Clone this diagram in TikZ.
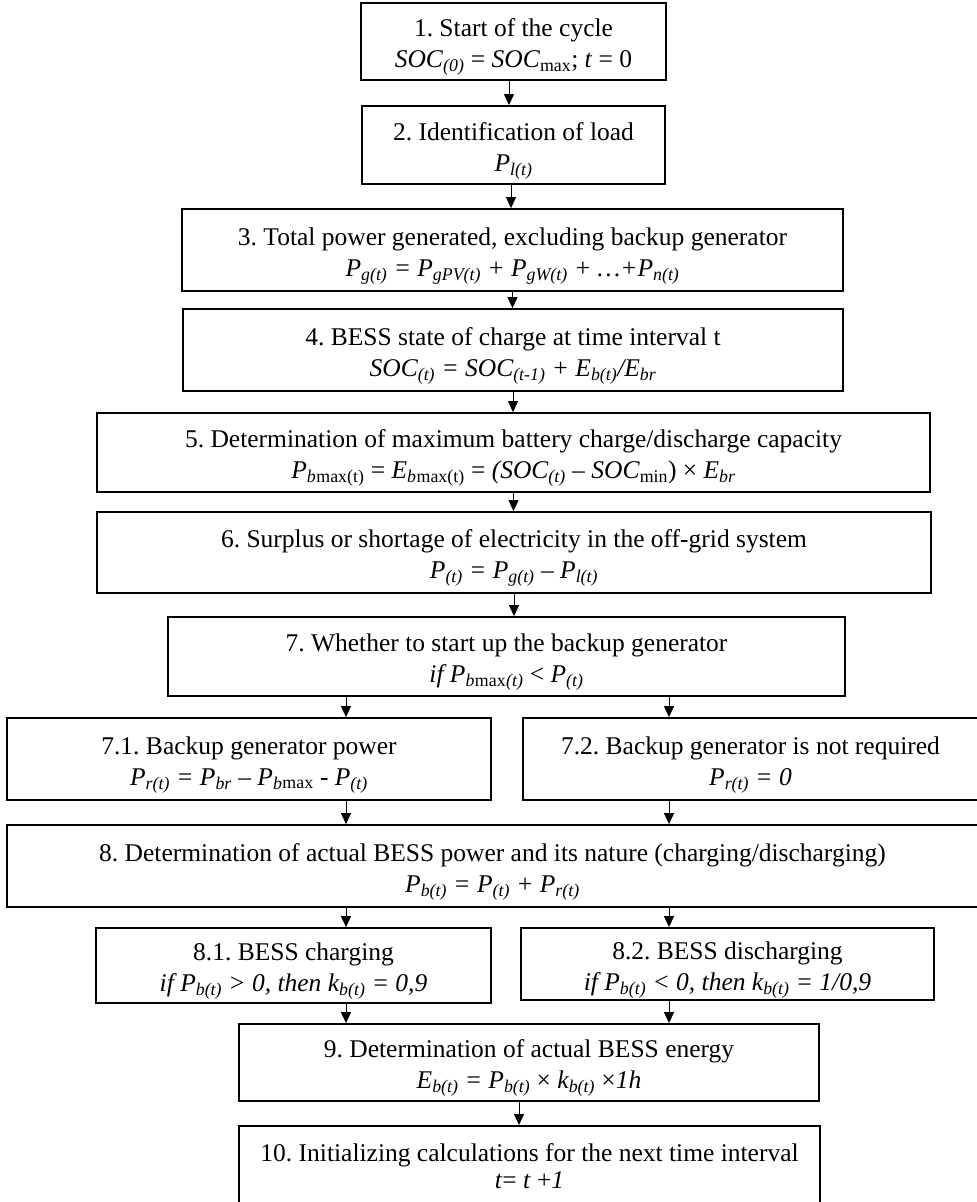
\documentclass[tikz,border=0pt]{standalone}
\usepackage{fontspec}
\setmainfont{Liberation Serif}
\usetikzlibrary{arrows.meta}
\newcommand\sbi[1]{\textsubscript{\itshape #1}}
\newcommand\sbu[1]{\textsubscript{\upshape #1}}
\newcommand\tstrut{\rule{0pt}{29pt}}
\frenchspacing
\begin{document}
\begin{tikzpicture}[x=1pt,y=-1pt,
  box/.style={draw=black, line width=1.8pt, align=center, inner sep=0pt,
    font=\fontsize{25.5pt}{31pt}\selectfont\frenchspacing},
  arr/.style={line width=1pt, -{Triangle[length=11pt,width=10pt]}}]
\useasboundingbox (0,0) rectangle (977,1202);
\node[box, minimum width=305pt, minimum height=77pt] (b1) at (513.5,41.5)
  {\tstrut 1. Start of the cycle\\ \textit{SOC}\sbi{(0)} = \textit{SOC}\sbu{max}; \textit{t} = 0};
\node[box, minimum width=303pt, minimum height=78pt] (b2) at (513.5,145)
  {\tstrut 2. Identification of load\\ \textit{P}\sbi{l(t)}};
\node[box, minimum width=661pt, minimum height=82pt] (b3) at (512.5,250)
  {\tstrut 3. Total power generated, excluding backup generator\\
   \textit{P\sbi{g(t)} = P\sbi{gPV(t)} + P\sbi{gW(t)} + …+P\sbi{n(t)}}};
\node[box, minimum width=660pt, minimum height=82pt] (b4) at (513,350)
  {\tstrut 4. BESS state of charge at time interval t\\
   \textit{SOC\sbi{(t)} = SOC\sbi{(t-1)} + E\sbi{b(t)}/E\sbi{br}}};
\node[box, minimum width=833pt, minimum height=79pt] (b5) at (513.5,452.5)
  {\tstrut 5. Determination of maximum battery charge/discharge capacity\\
   \textit{P}\sbi{b}\sbu{max(t)} = \textit{E}\sbi{b}\sbu{max(t)} = \textit{(SOC\sbi{(t)} – SOC}\sbu{min}) × \textit{E}\sbi{br}};
\node[box, minimum width=834pt, minimum height=81pt] (b6) at (514,552.5)
  {\tstrut 6. Surplus or shortage of electricity in the off-grid system\\
   \textit{P\sbi{(t)} = P\sbi{g(t)} – P\sbi{l(t)}}};
\node[box, minimum width=677pt, minimum height=79pt] (b7) at (506.5,656.5)
  {\tstrut 7. Whether to start up the backup generator\\
   \textit{if P}\sbi{b}\sbu{max}\sbi{(t)} < \textit{P}\sbi{(t)}};
\node[box, minimum width=484pt, minimum height=82pt] (b71) at (249,759)
  {\tstrut 7.1. Backup generator power\\
   \textit{P\sbi{r(t)} = P\sbi{br} – P}\sbi{b}\sbu{max} - \textit{P}\sbi{(t)}};
\node[box, minimum width=455pt, minimum height=82pt] (b72) at (750.5,759)
  {\tstrut 7.2. Backup generator is not required\\
   \textit{P\sbi{r(t)} = 0}};
\node[box, minimum width=971pt, minimum height=82pt] (b8) at (492.5,866)
  {\tstrut 8. Determination of actual BESS power and its nature (charging/discharging)\\
   \textit{P\sbi{b(t)} = P\sbi{(t)} + P\sbi{r(t)}}};
\node[box, minimum width=395pt, minimum height=75pt] (b81) at (293.5,965.5)
  {\tstrut 8.1. BESS charging\\
   \textit{if P\sbi{b(t)} > 0, then k\sbi{b(t)} = 0,9}};
\node[box, minimum width=413pt, minimum height=72pt] (b82) at (727.5,964)
  {\tstrut 8.2. BESS discharging\\
   \textit{if P\sbi{b(t)} < 0, then k\sbi{b(t)} = 1/0,9}};
\node[box, minimum width=580pt, minimum height=77pt] (b9) at (529,1062.5)
  {\tstrut 9. Determination of actual BESS energy\\
   \textit{E\sbi{b(t)} = P\sbi{b(t)}} × \textit{k\sbi{b(t)}} ×\textit{1h}};
\node[box, minimum width=581pt, minimum height=80pt, anchor=north] (b10) at (529.5,1125)
  {10. Initializing calculations for the next time interval\\[-4pt]
   \textit{t}= \textit{t} +\textit{1}};
\coordinate (xL) at (346,0);
\coordinate (xR) at (669,0);
\coordinate (xA) at (509,0);
\coordinate (xB) at (511,0);
\coordinate (xC) at (519,0);
\draw[arr] (b1.south -| xA) -- (b2.north -| xA);
\draw[arr] (b2.south -| xB) -- (b3.north -| xB);
\draw[arr] (b3.south) -- (b3.south |- b4.north);
\draw[arr] (b4.south) -- (b4.south |- b5.north);
\draw[arr] (b5.south) -- (b5.south |- b6.north);
\draw[arr] (b6.south) -- (b6.south |- b7.north);
\draw[arr] (b7.south -| xL) -- (b71.north -| xL);
\draw[arr] (b7.south -| xR) -- (b72.north -| xR);
\draw[arr] (b71.south -| xL) -- (b8.north -| xL);
\draw[arr] (b72.south -| xR) -- (b8.north -| xR);
\draw[arr] (b8.south -| xL) -- (b81.north -| xL);
\draw[arr] (b8.south -| xR) -- (b82.north -| xR);
\draw[arr] (b81.south -| xL) -- (b9.north -| xL);
\draw[arr] (b82.south -| xR) -- (b9.north -| xR);
\draw[arr] (b9.south -| xC) -- (b10.north -| xC);
\end{tikzpicture}
\end{document}
